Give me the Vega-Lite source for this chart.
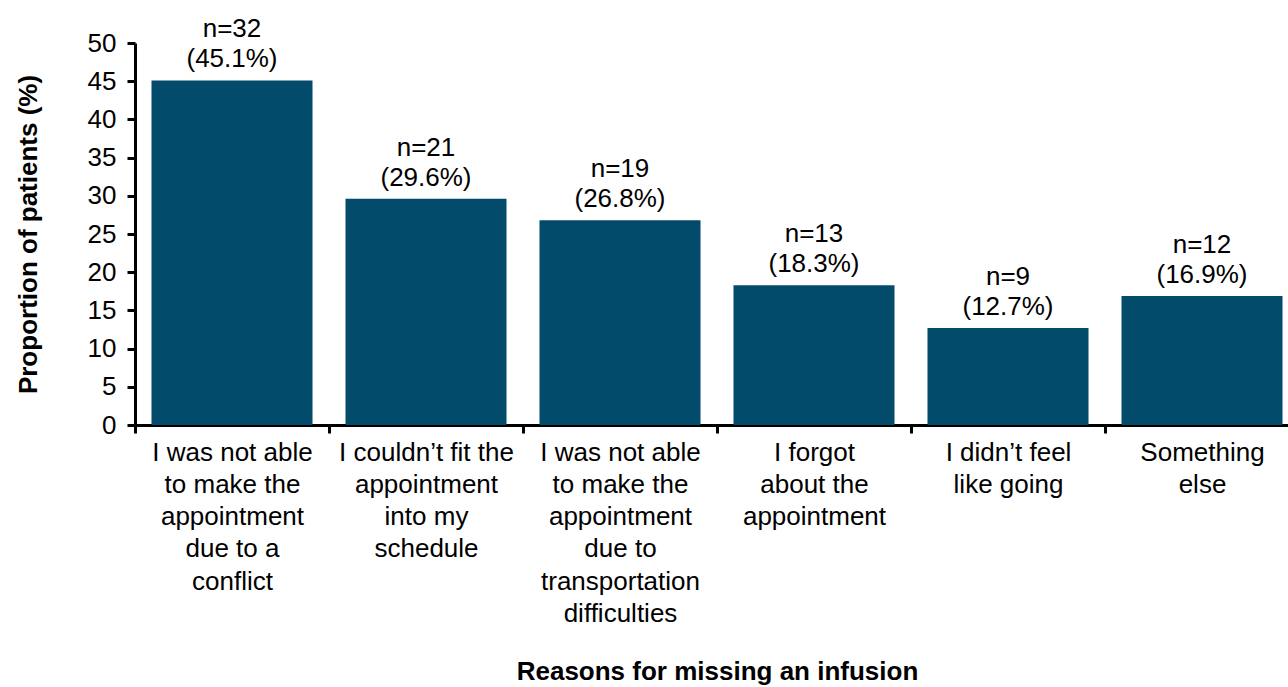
{
  "$schema": "https://vega.github.io/schema/vega-lite/v6.json",
  "width": 1164,
  "height": 382,
  "autosize": {"type": "none"},
  "padding": {"left": 135, "top": 43, "right": 0, "bottom": 262},
  "background": "white",
  "config": {
    "view": {"stroke": null},
    "font": "Liberation Sans"
  },
  "data": {
    "values": [
      {"reason": "I was not able|to make the|appointment|due to a|conflict", "pct": 45.1, "nlab": "n=32", "plab": "(45.1%)"},
      {"reason": "I couldn’t fit the|appointment|into my|schedule", "pct": 29.6, "nlab": "n=21", "plab": "(29.6%)"},
      {"reason": "I was not able|to make the|appointment|due to|transportation|difficulties", "pct": 26.8, "nlab": "n=19", "plab": "(26.8%)"},
      {"reason": "I forgot|about the|appointment", "pct": 18.3, "nlab": "n=13", "plab": "(18.3%)"},
      {"reason": "I didn’t feel|like going", "pct": 12.7, "nlab": "n=9", "plab": "(12.7%)"},
      {"reason": "Something|else", "pct": 16.9, "nlab": "n=12", "plab": "(16.9%)"}
    ]
  },
  "encoding": {
    "x": {
      "field": "reason",
      "type": "nominal",
      "sort": null,
      "scale": {"paddingInner": 0.17, "paddingOuter": 0.085},
      "axis": {
        "title": "Reasons for missing an infusion",
        "titleFont": "Liberation Sans",
        "titleFontSize": 26,
        "titleFontWeight": "bold",
        "titleColor": "black",
        "titlePadding": 33,
        "labelExpr": "split(datum.label, '|')",
        "labelAngle": 0,
        "labelFontSize": 26,
        "labelColor": "black",
        "labelLineHeight": 32.3,
        "labelPadding": 6,
        "labelLimit": 400,
        "labelBaseline": "top",
        "tickOffset": -97,
        "labelOffset": 97,
        "domainColor": "black",
        "domainWidth": 3,
        "tickColor": "black",
        "tickWidth": 3,
        "tickSize": 8,
        "grid": false
      }
    },
    "y": {
      "field": "pct",
      "type": "quantitative",
      "scale": {"domain": [0, 50], "nice": false},
      "axis": {
        "title": "Proportion of patients (%)",
        "titleFont": "Liberation Sans",
        "titleFontSize": 26,
        "titleFontWeight": "bold",
        "titleColor": "black",
        "titlePadding": 46,
        "values": [0, 5, 10, 15, 20, 25, 30, 35, 40, 45, 50],
        "labelFontSize": 26,
        "labelColor": "black",
        "labelPadding": 11,
        "domainColor": "black",
        "domainWidth": 3,
        "tickColor": "black",
        "tickWidth": 3,
        "tickSize": 8,
        "grid": false
      }
    }
  },
  "layer": [
    {"mark": {"type": "bar", "color": "#034b6b"}},
    {
      "mark": {"type": "text", "fontSize": 26, "color": "black", "baseline": "alphabetic", "dy": -13},
      "encoding": {"text": {"field": "plab"}}
    },
    {
      "mark": {"type": "text", "fontSize": 26, "color": "black", "baseline": "alphabetic", "dy": -43},
      "encoding": {"text": {"field": "nlab"}}
    }
  ]
}
